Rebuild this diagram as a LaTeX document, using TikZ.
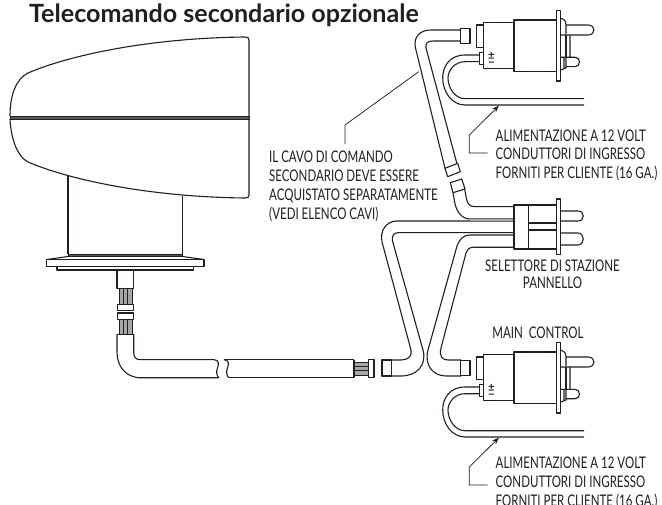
\documentclass[tikz,border=0pt]{standalone}
\usepackage{fontspec}
\usetikzlibrary{arrows.meta}
\newfontfamily\titlefont{Lato}[BoldFont={Lato Bold}]
\newfontfamily\labelfont{Lato}[FakeStretch=0.72]
\definecolor{ink}{HTML}{231F20}
\tikzset{
  line/.style={draw=ink,line width=1.1pt,line join=round},
  thin line/.style={draw=ink,line width=0.8pt},
  strands/.style={draw=ink,line width=0.9pt,fill=black!35},
  bandfill/.style={draw=ink,line width=0.8pt,fill=black!65},
  labeltext/.style={inner sep=0pt,text=ink,font=\labelfont\fontsize{16}{18.8}\selectfont},
  leader/.style={draw=ink,line width=0.75pt},
  tip/.style={-{Stealth[length=7pt,width=5pt]}}
}
\begin{document}
\begin{tikzpicture}[x=1pt,y=-1pt]
\useasboundingbox (0,0) rectangle (662,505);
\fill[white] (0,0) rectangle (662,505);
% title
\node[anchor=base west,inner sep=0pt,text=ink,font=\titlefont\bfseries\fontsize{25.1}{28}\selectfont] (title) at (29,22.7) {Telecomando secondario opzionale};
% head
\draw[line] (10,116) .. controls (10,95) and (16,79) .. (28,73) .. controls (70,55) and (150,38) .. (245,37) .. controls (248,37) and (249,38) .. (249,40) -- (249,116);
\draw[line] (10,119) .. controls (11,140) and (18,157) .. (28,162) .. controls (70,180) and (150,197) .. (245,198) .. controls (248,198) and (249,197) .. (249,195) -- (249,119);
\draw[bandfill] (10,116) rectangle (249,119);
% neck
\draw[line] (68,176.5) -- (68,254) (182.5,196.5) -- (182.5,254);
\draw[bandfill] (68,254) rectangle (182.5,256.5);
% flange
\draw[line] (46.7,259.5) -- (68,256.5) (182.5,256.5) -- (204,259.5);
\draw[line] (46.7,259.5) rectangle (204,266.7);
\draw[line] (57,266.7) rectangle (193.5,270);
% stub and strands
\draw[line] (117,270) rectangle (133.7,288.7);
\draw[strands] (119,288.7) rectangle (132,304.3);
\draw[strands] (119,319.5) rectangle (132,334.5);
\foreach \x in {123.3,127.7} {
  \draw[thin line] (\x,288.7) -- (\x,304.3) (\x,319.5) -- (\x,334.5);
}
\draw[line] (117.5,304.3) rectangle (133.5,310.7);
\draw[line] (117.5,313) rectangle (133.5,319.5);
% long cable
\draw[line] (117,334.5) -- (133.7,334.5);
\draw[line] (214,359.7) -- (140,359.7) .. controls (136,359.7) and (133.7,357) .. (133.7,353) -- (133.7,334.5);
\draw[line] (219,377.7) -- (138,377.7) .. controls (125,376) and (117,366) .. (117,352) -- (117,334.5);
\draw[line] (214,359.7) .. controls (219,360) and (219,364) .. (217.5,368) .. controls (216,372) and (216.5,376) .. (219,377.7);
\draw[line] (224,359.7) .. controls (229,360) and (229,364) .. (227.5,368) .. controls (226,372) and (226.5,376) .. (229,377.7);
\draw[line] (224,359.7) -- (354,359.7) (229,377.7) -- (354,377.7) -- (354,359.7);
\draw[strands] (354,362) rectangle (368.7,375);
\foreach \y in {366.3,370.6} { \draw[thin line] (354,\y) -- (368.7,\y); }
\draw[line] (368.7,359.3) rectangle (374,377.7);
% cable A: long cable connector to selector
\draw[line] (382,360) rectangle (391.7,376);
\draw[line] (391.7,360) -- (401,360) .. controls (408,360) and (412.5,356) .. (411,350) -- (382.3,243) .. controls (379,230) and (387,221) .. (397,221) -- (514,221);
\draw[line] (391.7,376) -- (401,376) .. controls (417,376) and (427,365) .. (423,350) -- (392.5,241) .. controls (391.5,236) and (394,232.7) .. (398,232.7) -- (514,232.7);
% cable B: selector to main control
\draw[line] (514,235) -- (470,235) .. controls (463,235) and (459,240) .. (457,246) -- (428,350) .. controls (424,365) and (433,376) .. (446,376) -- (461,376);
\draw[line] (514,247.3) -- (473,247.3) .. controls (469,247.3) and (467,250) .. (466,253) -- (441,348) .. controls (439,356) and (442,360) .. (448,360) -- (461,360);
% cable C: selector to secondary control
\draw[line] (514,206.7) -- (475,206.7) .. controls (470,206.7) and (467.5,204) .. (466.5,199) -- (464.6,189);
\draw[line] (514,219) -- (470,219) .. controls (462,219) and (457,212) .. (455,204) -- (453,192.7);
\fill[black!35] (514,219) rectangle (470,221);
\draw[line] (450.3,182.7) -- (461.7,179) -- (465,189) -- (453,192.7) -- cycle;
\draw[line] (445,168.3) -- (457.7,163.3) -- (460.3,171.7) -- (447.7,176.7) -- cycle;
\draw[line] (445,168.3) -- (415.5,48) .. controls (413,37) and (420,30) .. (431,30) -- (460.7,30);
\draw[line] (457,164) -- (426,48) .. controls (425,43) and (428,41) .. (433,41) -- (460.7,41);
% selector
\draw[line] (514,205) rectangle (528.3,249);
\draw[line] (528.3,205) -- (556.7,205) (528.3,223) -- (556.7,223) (528.3,230) -- (556.7,230) (528.3,249) -- (556.7,249);
\draw[line] (556.7,199) rectangle (560.7,254.3);
\draw[line] (560.7,211) -- (578,211) .. controls (585,211) and (585,221) .. (578,221) -- (560.7,221);
\draw[line] (560.7,233) -- (578,233) .. controls (585,233) and (585,245) .. (578,245) -- (560.7,245);
% the two control units
\foreach \dy in {0,332} {
\begin{scope}[shift={(0,\dy)}]
  \draw[line] (460.7,28.3) rectangle (470,43.3);
  \draw[line] (476.7,25) rectangle (483.3,47.3);
  \draw[line] (483.3,22.7) rectangle (514,68.3);
  \draw[line] (514,20) rectangle (556.7,71.7);
  \draw[line] (556.7,10.7) rectangle (560.7,81);
  \draw[line] (479.3,52.7) rectangle (483.3,64.3);
  \node[inner sep=0pt,text=ink,align=center,font=\titlefont\bfseries\fontsize{11.5}{7}\selectfont] (sign\dy) at (491.5,59) {±\\−};
  % pins
  \draw[line] (560.7,18.3) .. controls (564,19) and (566,21) .. (566,25) -- (566,34);
  \draw[line] (566,25) -- (588,25) .. controls (596,25) and (596,35) .. (588,35) -- (560.7,35);
  \draw[line] (570,35) -- (570,57.3) (560.7,57.3) -- (575,57.3) .. controls (581,57.3) and (581,66.7) .. (575,66.7) -- (566,66.7);
  \draw[line] (566,35) -- (566,57.3);
  \draw[line] (564,58) -- (564,69) (566,57.3) -- (566,68) -- (560.7,70);
  % supply conductors
  \draw[line] (479.3,55) -- (465,55) .. controls (450,55) and (442.7,66) .. (442.7,78) .. controls (442.7,92) and (452,105) .. (465,105) -- (584,105);
  \draw[line] (479.3,61.7) -- (465,61.7) .. controls (455,61.7) and (448,70) .. (448,78) .. controls (448,88) and (455,98.7) .. (465,98.7) -- (584,98.7);
  % leader
  \coordinate (supply\dy) at (499,105.6);
  \coordinate (bend\dy) at (469.3,135);
  \coordinate (foot\dy) at (469.3,153);
  \coordinate (lead\dy) at (487.7,153);
  \draw[leader,tip] (lead\dy) -- (foot\dy) -- (bend\dy) -- (supply\dy);
\end{scope}
}
% cable leader
\coordinate (cablepoint) at (418.7,71.7);
\coordinate (cablebend) at (345,125);
\coordinate (cablefoot) at (345,144);
\draw[leader] (cablefoot) -- (cablebend) -- (cablepoint);
% labels
\node[labeltext,anchor=north west,align=left] (supplyA) at (495.5,129.4) {ALIMENTAZIONE A 12 VOLT\\CONDUTTORI DI INGRESSO\\FORNITI PER CLIENTE (16 GA.)};
\node[labeltext,anchor=north west,align=left] (supplyB) at (495.5,457) {ALIMENTAZIONE A 12 VOLT\\CONDUTTORI DI INGRESSO\\FORNITI PER CLIENTE (16 GA.)};
\node[labeltext,anchor=north west,align=left] (cablelabel) at (269,151) {IL CAVO DI COMANDO\\SECONDARIO DEVE ESSERE\\ACQUISTATO SEPARATAMENTE\\(VEDI ELENCO CAVI)};
\node[labeltext,anchor=north,align=center] (selector) at (552.5,260) {SELETTORE DI STAZIONE\\[-2pt]PANNELLO};
\node[labeltext,anchor=north] (main) at (538,326.5) {MAIN\ \ CONTROL};
\end{tikzpicture}
\end{document}
